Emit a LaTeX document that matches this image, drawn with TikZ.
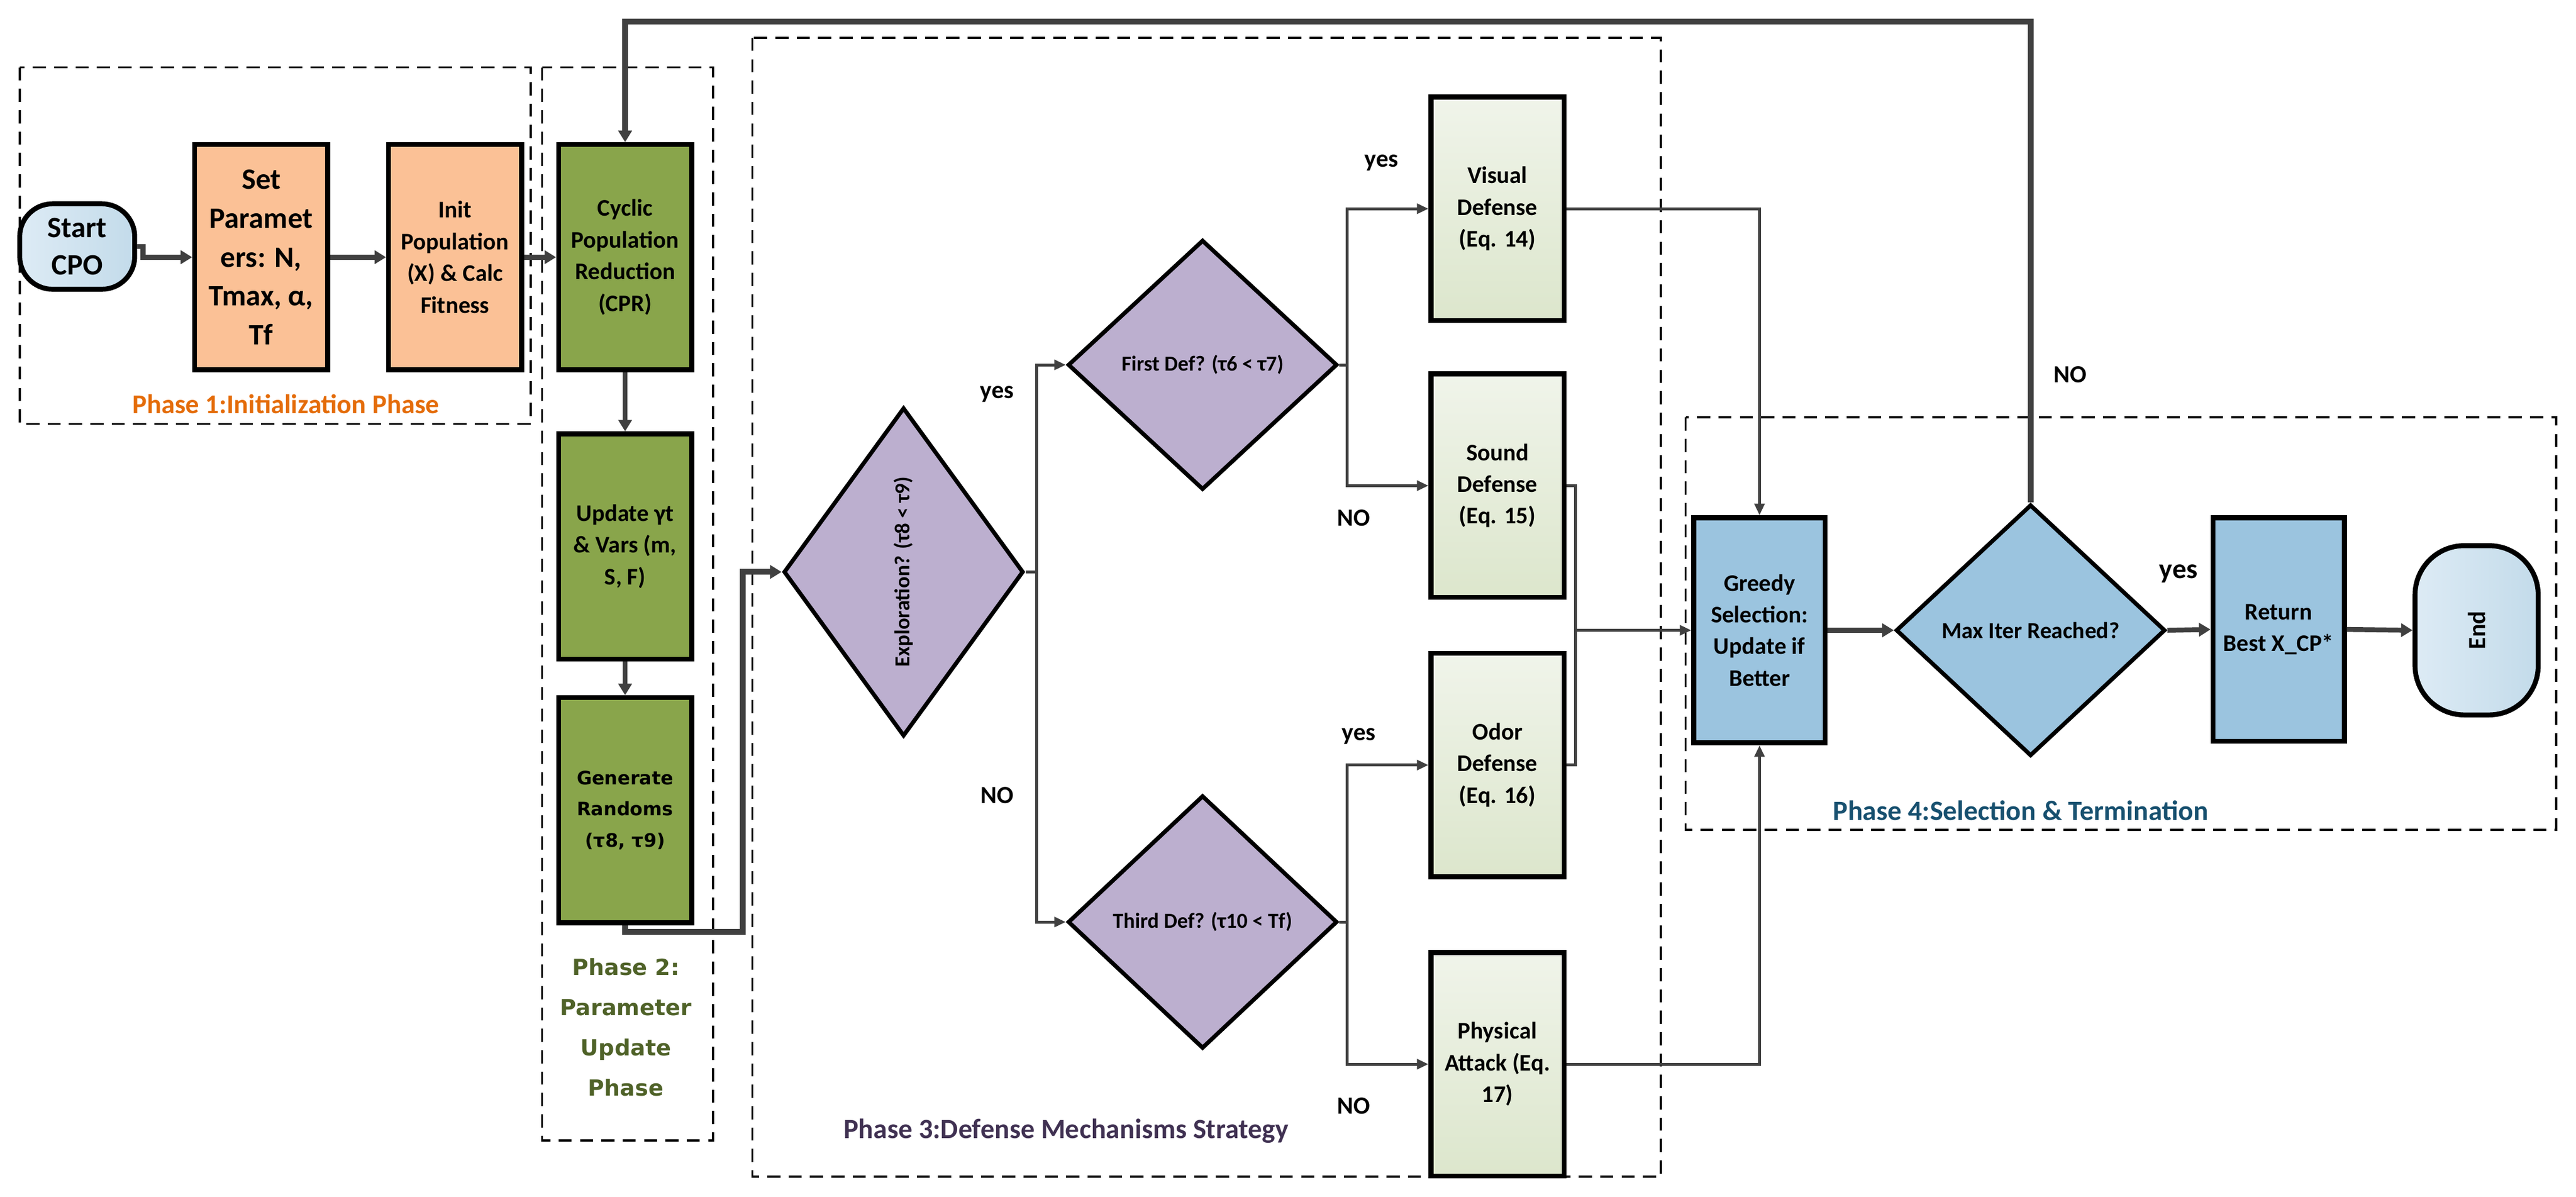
\documentclass[tikz,border=0pt]{standalone}
\usepackage{fontspec}
\setmainfont{Carlito}
\newfontfamily\vfont{DejaVu Sans}
\usetikzlibrary{arrows.meta,shapes.geometric}
\definecolor{orfill}{HTML}{FBC196}
\definecolor{grfill}{HTML}{89A54B}
\definecolor{pufill}{HTML}{BCAFCF}
\definecolor{blfill}{HTML}{9BC4DF}
\definecolor{lgA}{HTML}{F0F4EA}
\definecolor{lgB}{HTML}{DCE6CC}
\definecolor{sbA}{HTML}{DDEBF5}
\definecolor{sbB}{HTML}{C3DBEA}
\definecolor{conn}{HTML}{404040}
\definecolor{ph1}{HTML}{E46C0A}
\definecolor{ph2}{HTML}{4F6228}
\definecolor{ph3}{HTML}{403152}
\definecolor{ph4}{HTML}{17506F}
\tikzset{
  boxst/.style={draw=black,line width=3pt,minimum width=81pt,minimum height=137pt,inner sep=1pt,align=center,font=\bfseries\fontsize{14.5}{19.3}\selectfont},
  dia/.style={draw=black,line width=2.5pt,diamond,inner sep=0pt,fill=pufill},
  conline/.style={draw=conn,line width=1.8pt,-{Triangle[length=7pt,width=6pt]}},
  plain/.style={draw=conn,line width=1.8pt},
  thickline/.style={draw=conn,line width=3.5pt,-{Triangle[length=7pt,width=8pt]}},
  phasebox/.style={draw=black,line width=1.3pt,dash pattern=on 8pt off 5pt},
  lab/.style={font=\bfseries\fontsize{15}{18}\selectfont}
}
\begin{document}
\begin{tikzpicture}[x=1pt,y=-1pt]
\useasboundingbox (0,0) rectangle (1568,728);
% phase boxes
\draw[phasebox] (12,41) rectangle (323,258);
\draw[phasebox] (330,41) rectangle (434,694);
\draw[phasebox] (458,23) rectangle (1011,716);
\draw[phasebox] (1026,254) rectangle (1556,505);
% nodes
\node[boxst,minimum width=70pt,minimum height=52pt,rounded corners=20pt,left color=sbA,right color=sbB,font=\bfseries\fontsize{18}{23}\selectfont] (start) at (47,150) {Start\\CPO};
\node[boxst,fill=orfill,font=\bfseries\fontsize{18}{23.7}\selectfont] (setp) at (159,156.5) {Set\\Paramet\\ers: N,\\Tmax, α,\\Tf};
\node[boxst,fill=orfill] (init) at (277,156.5) {Init\\Population\\(X) \& Calc\\Fitness};
\node[boxst,fill=grfill] (cpr) at (380.5,156.5) {Cyclic\\Population\\Reduction\\(CPR)};
\node[boxst,fill=grfill] (upd) at (380.5,332.5) {Update γt\\\& Vars (m,\\S, F)};
\node[boxst,fill=grfill,font=\vfont\bfseries\fontsize{11.3}{19}\selectfont] (gen) at (380.5,493) {Generate\\Randoms\\(τ8, τ9)};
\node[dia,minimum width=146pt,minimum height=200pt] (expl) at (550,348) {};
\node[rotate=90,font=\bfseries\fontsize{13}{15}\selectfont] (expltxt) at (550,348) {Exploration? (τ8 < τ9)};
\node[dia,minimum width=164pt,minimum height=152pt] (first) at (732,222) {};
\node[font=\bfseries\fontsize{13}{15}\selectfont] (firsttxt) at (732,222) {First Def? (τ6 < τ7)};
\node[dia,minimum width=164pt,minimum height=154pt] (third) at (732,561) {};
\node[font=\bfseries\fontsize{13}{15}\selectfont] (thirdtxt) at (732,561) {Third Def? (τ10 < Tf)};
\node[boxst,minimum height=136pt,top color=lgA,bottom color=lgB] (vis) at (911.5,127) {Visual\\Defense\\(Eq. 14)};
\node[boxst,minimum height=136pt,top color=lgA,bottom color=lgB] (sound) at (911.5,295.5) {Sound\\Defense\\(Eq. 15)};
\node[boxst,minimum height=136pt,top color=lgA,bottom color=lgB] (odor) at (911.5,465.5) {Odor\\Defense\\(Eq. 16)};
\node[boxst,minimum height=136pt,top color=lgA,bottom color=lgB] (phys) at (911.5,647.5) {Physical\\Attack (Eq.\\17)};
\node[boxst,fill=blfill,minimum width=80pt] (greedy) at (1071,383.5) {Greedy\\Selection:\\Update if\\Better};
\node[dia,fill=blfill,minimum width=164pt,minimum height=153pt] (maxit) at (1236,383.5) {};
\node[font=\bfseries\fontsize{14}{16}\selectfont] (maxtxt) at (1236,383.5) {Max Iter Reached?};
\node[boxst,fill=blfill,minimum width=80pt,minimum height=136pt] (ret) at (1387,383) {Return\\Best X\_CP*};
\node[boxst,minimum width=75pt,minimum height=103pt,rounded corners=30pt,left color=sbA,right color=sbB] (end) at (1507.5,383.5) {};
\node[rotate=90,font=\bfseries\fontsize{15}{18}\selectfont] (endtxt) at (1507.5,383.5) {End};
% connectors
\coordinate (s1) at (87,150);
\draw[conn,line width=3pt,-{Triangle[length=7pt,width=8pt]}] (start.east) -- (s1) |- (setp.west);
\draw[conn,line width=3pt,-{Triangle[length=7pt,width=8pt]}] (setp.east) -- (init.west);
\draw[conn,line width=3pt,-{Triangle[length=7pt,width=8pt]}] (init.east) -- (cpr.west);
\draw[conn,line width=3pt,-{Triangle[length=7pt,width=8pt]}] (cpr.south) -- (upd.north);
\draw[conn,line width=3pt,-{Triangle[length=7pt,width=8pt]}] (upd.south) -- (gen.north);
\coordinate (g1) at (380.5,567);
\coordinate (g2) at (452,567);
\draw[thickline] (gen.south) -- (g1) -- (g2) |- (expl.west);
\coordinate (b1) at (631,348);
\draw[plain] (expl.east) -- (b1);
\draw[conline] (b1) |- (first.west);
\draw[conline] (b1) |- (third.west);
\coordinate (b2) at (820,222);
\draw[plain] (first.east) -- (b2);
\draw[conline] (b2) |- (vis.west);
\draw[conline] (b2) |- (sound.west);
\coordinate (b3) at (820,561);
\draw[plain] (third.east) -- (b3);
\draw[conline] (b3) |- (odor.west);
\draw[conline] (b3) |- (phys.west);
\draw[conline] (vis.east) -| (greedy.north);
\draw[conline] (phys.east) -| (greedy.south);
\coordinate (m1) at (959,295.5);
\coordinate (m2) at (959,465.5);
\coordinate (m3) at (959,383.5);
\draw[plain] (sound.east) -- (m1) -- (m2) -- (odor.east);
\draw[conline] (m3) -- (greedy.west);
\draw[conn,line width=3pt,-{Triangle[length=7pt,width=8pt]}] (greedy.east) -- (maxit.west);
\draw[conn,line width=3pt,-{Triangle[length=7pt,width=8pt]}] (maxit.east) -- (ret.west);
\draw[conn,line width=3pt,-{Triangle[length=7pt,width=8pt]}] (ret.east) -- (end.west);
\coordinate (t1) at (1236,13);
\draw[thickline] (maxit.north) -- (t1) -| (cpr.north);
% labels
\node[lab] (l1) at (607,240) {yes};
\node[lab] (l2) at (607,484) {NO};
\node[lab] (l3) at (841,99) {yes};
\node[lab] (l4) at (824,315) {NO};
\node[lab] (l5) at (827,448) {yes};
\node[lab] (l6) at (824,673) {NO};
\node[lab] (l7) at (1260,228) {NO};
\node[lab,font=\bfseries\fontsize{17}{20}\selectfont] (l8) at (1326,349) {yes};
% phase titles
\node[font=\bfseries\fontsize{16.5}{20}\selectfont,text=ph1] (p1) at (174,246) {Phase 1:Initialization Phase};
\node[font=\vfont\bfseries\fontsize{13.5}{24.5}\selectfont,text=ph2,align=center] (p2) at (381,625) {Phase 2:\\Parameter\\Update\\Phase};
\node[font=\bfseries\fontsize{17}{20}\selectfont,text=ph3,anchor=east] (p3) at (788,688) {Phase 3:Defense Mechanisms Strategy};
\node[font=\bfseries\fontsize{17}{20}\selectfont,text=ph4] (p4) at (1230,493) {Phase 4:Selection \& Termination};
\end{tikzpicture}
\end{document}
